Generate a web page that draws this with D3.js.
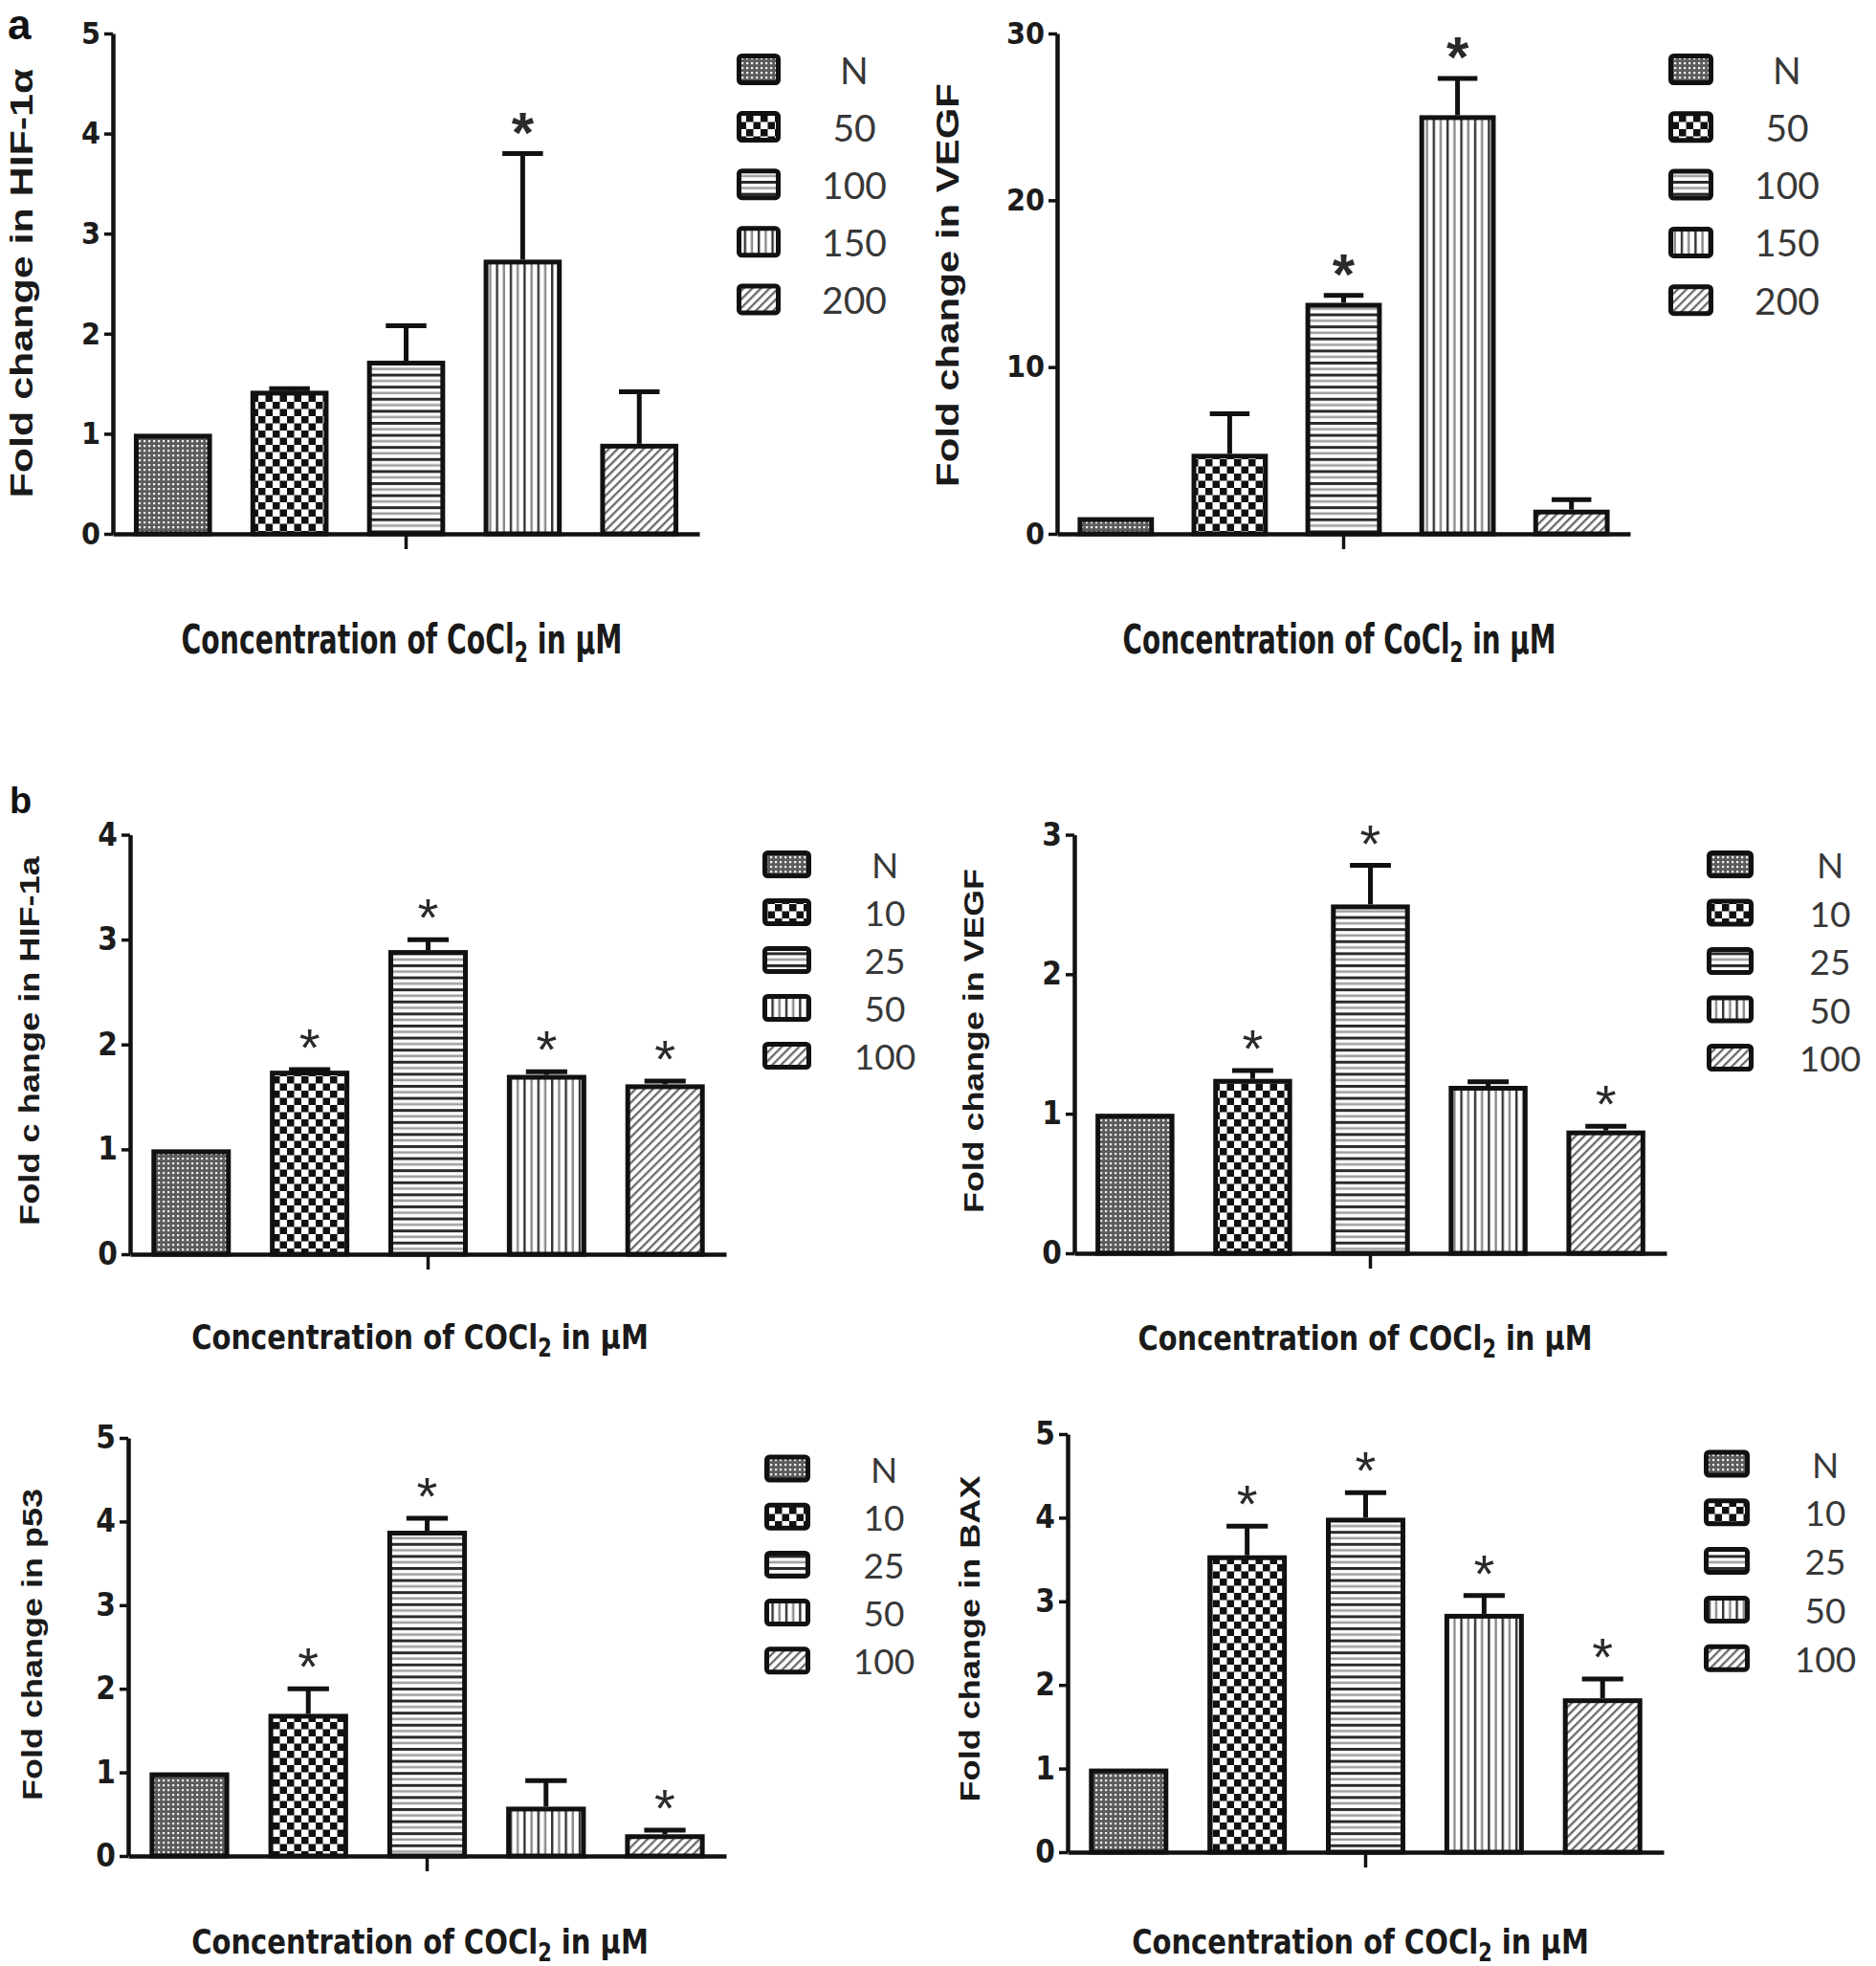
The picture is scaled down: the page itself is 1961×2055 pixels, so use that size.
<!DOCTYPE html>
<html>
<head>
<meta charset="utf-8">
<script src="https://cdn.jsdelivr.net/npm/d3@7"></script>
<style>
  html, body { margin: 0; padding: 0; background: #ffffff; }
  svg { display: block; }
</style>
</head>
<body>
<svg id="chart" width="1961" height="2055"></svg>
<script>
// ---------------- DATA ----------------
const categoriesA = ["N", "50", "100", "150", "200"];
const categoriesB = ["N", "10", "25", "50", "100"];

// Panel a: HIF-1α
const hifA_mean = [1.0, 1.43, 1.73, 2.74, 0.90];
const hifA_err  = [0, 0.02, 0.35, 1.06, 0.52];
const hifA_sig  = [0, 0, 0, 1, 0];
const hifA_ticks = [0, 1, 2, 3, 4, 5];

// Panel a: VEGF
const vegfA_mean = [1.0, 4.8, 13.85, 25.1, 1.45];
const vegfA_err  = [0, 2.4, 0.45, 2.2, 0.6];
const vegfA_sig  = [0, 0, 1, 1, 0];
const vegfA_ticks = [0, 10, 20, 30];

// Panel b: HIF-1a
const hifB_mean = [1.0, 1.75, 2.90, 1.71, 1.62];
const hifB_err  = [0, 0.01, 0.10, 0.03, 0.03];
const hifB_sig  = [0, 1, 1, 1, 1];
const hifB_ticks = [0, 1, 2, 3, 4];

// Panel b: VEGF
const vegfB_mean = [1.0, 1.25, 2.50, 1.20, 0.88];
const vegfB_err  = [0, 0.06, 0.28, 0.03, 0.03];
const vegfB_sig  = [0, 1, 1, 0, 1];
const vegfB_ticks = [0, 1, 2, 3];

// Panel b: p53
const p53B_mean = [1.0, 1.70, 3.89, 0.59, 0.26];
const p53B_err  = [0, 0.30, 0.15, 0.31, 0.05];
const p53B_sig  = [0, 1, 1, 0, 1];
const p53B_ticks = [0, 1, 2, 3, 4, 5];

// Panel b: BAX
const baxB_mean = [1.0, 3.55, 4.00, 2.85, 1.84];
const baxB_err  = [0, 0.35, 0.30, 0.22, 0.23];
const baxB_sig  = [0, 1, 1, 1, 1];
const baxB_ticks = [0, 1, 2, 3, 4, 5];

// Texts
const yTitles = ["Fold change in HIF-1\u03B1", "Fold change in VEGF", "Fold c hange in HIF-1a",
                 "Fold change in VEGF", "Fold change in p53", "Fold change in BAX"];
const xTitleA = ["Concentration of CoCl", "2", " in \u03BCM"];
const xTitleB = ["Concentration of COCl", "2", " in \u03BCM"];
const panelLetters = ["a", "b"];

// ---------------- LAYOUT (positions / sizes only) ----------------
const panels = [
  { cats: categoriesA, mean: hifA_mean, err: hifA_err, sig: hifA_sig, ticks: hifA_ticks, yt: yTitles[0], xt: xTitleA,
    ax: 118, y0: 558, yTop: 35, xEnd: 731, tickFont: 32,
    legX: 770, legW: 46, legH: 33, legY0: 72.5, legDY: 60.1, legLX: 893, legFont: 39,
    ytX: 25, ytY: 296, ytLen: 449, ytFont: 34, xtX: 420, xtY: 683, xtW: 461, xtFont: 43, starFont: 60, starW: "bold" },
  { cats: categoriesA, mean: vegfA_mean, err: vegfA_err, sig: vegfA_sig, ticks: vegfA_ticks, yt: yTitles[1], xt: xTitleA,
    ax: 1105, y0: 558, yTop: 35, xEnd: 1704, tickFont: 32,
    legX: 1744, legW: 47, legH: 33, legY0: 72.5, legDY: 60.3, legLX: 1868, legFont: 39,
    ytX: 993, ytY: 298, ytLen: 422, ytFont: 34, xtX: 1400, xtY: 683, xtW: 453, xtFont: 43, starFont: 60, starW: "bold" },
  { cats: categoriesB, mean: hifB_mean, err: hifB_err, sig: hifB_sig, ticks: hifB_ticks, yt: yTitles[2], xt: xTitleB,
    ax: 136, y0: 1311, yTop: 872.5, xEnd: 759, tickFont: 33,
    legX: 797, legW: 51, legH: 29, legY0: 903.5, legDY: 50, legLX: 925, legFont: 37,
    ytX: 33, ytY: 1088, ytLen: 386, ytFont: 30, xtX: 439, xtY: 1410, xtW: 478, xtFont: 36, starFont: 56, starW: "normal" },
  { cats: categoriesB, mean: vegfB_mean, err: vegfB_err, sig: vegfB_sig, ticks: vegfB_ticks, yt: yTitles[3], xt: xTitleB,
    ax: 1123, y0: 1310, yTop: 872.5, xEnd: 1742, tickFont: 33,
    legX: 1784, legW: 49, legH: 29, legY0: 903.5, legDY: 50.5, legLX: 1913, legFont: 37,
    ytX: 1020, ytY: 1088, ytLen: 360, ytFont: 30, xtX: 1427, xtY: 1411, xtW: 475, xtFont: 36, starFont: 56, starW: "normal" },
  { cats: categoriesB, mean: p53B_mean, err: p53B_err, sig: p53B_sig, ticks: p53B_ticks, yt: yTitles[4], xt: xTitleB,
    ax: 134, y0: 1940, yTop: 1503, xEnd: 759, tickFont: 33,
    legX: 799, legW: 48, legH: 29, legY0: 1535, legDY: 50.2, legLX: 924, legFont: 37,
    ytX: 36, ytY: 1719, ytLen: 326, ytFont: 30, xtX: 439, xtY: 2042, xtW: 478, xtFont: 36, starFont: 56, starW: "normal" },
  { cats: categoriesB, mean: baxB_mean, err: baxB_err, sig: baxB_sig, ticks: baxB_ticks, yt: yTitles[5], xt: xTitleB,
    ax: 1116, y0: 1936, yTop: 1499, xEnd: 1739, tickFont: 33,
    legX: 1781, legW: 48, legH: 29, legY0: 1530, legDY: 50.8, legLX: 1908, legFont: 37,
    ytX: 1016, ytY: 1713, ytLen: 341, ytFont: 30, xtX: 1422, xtY: 2042, xtW: 478, xtFont: 36, starFont: 56, starW: "normal" }
];

const INK = "#111111";
const CONDENSED = "'Liberation Sans Narrow', 'DejaVu Sans Condensed', 'Liberation Sans', Arial, sans-serif";
const SANS = "'Liberation Sans', Arial, sans-serif";
const LEGEND_FONT = "Lato, 'Open Sans', sans-serif";

const svg = d3.select("#chart");
svg.append("rect").attr("width", 1961).attr("height", 2055).attr("fill", "#ffffff");

// ---------------- PATTERNS ----------------
const defs = svg.append("defs");
// 0: fine dotted gray
{
  const p = defs.append("pattern").attr("id", "pat0").attr("patternUnits", "userSpaceOnUse").attr("width", 5).attr("height", 5);
  p.append("rect").attr("width", 5).attr("height", 5).attr("fill", "#5c5c5c");
  p.append("rect").attr("width", 2.2).attr("height", 2.2).attr("fill", "#f2f2f2");
}
// 1: checkerboard
{
  const p = defs.append("pattern").attr("id", "pat1").attr("patternUnits", "userSpaceOnUse").attr("width", 15).attr("height", 15);
  p.append("rect").attr("width", 15).attr("height", 15).attr("fill", "#ffffff");
  p.append("rect").attr("width", 7.5).attr("height", 7.5).attr("fill", "#111");
  p.append("rect").attr("x", 7.5).attr("y", 7.5).attr("width", 7.5).attr("height", 7.5).attr("fill", "#111");
}
// 2: horizontal stripes
{
  const p = defs.append("pattern").attr("id", "pat2").attr("patternUnits", "userSpaceOnUse").attr("width", 10).attr("height", 12.6);
  p.append("rect").attr("width", 10).attr("height", 12.6).attr("fill", "#ffffff");
  p.append("rect").attr("y", 0).attr("width", 10).attr("height", 3).attr("fill", "#2a2a2a");
  p.append("rect").attr("y", 6.3).attr("width", 10).attr("height", 2.6).attr("fill", "#a0a0a0");
}
// 3: vertical stripes
{
  const p = defs.append("pattern").attr("id", "pat3").attr("patternUnits", "userSpaceOnUse").attr("width", 14.4).attr("height", 10);
  p.append("rect").attr("width", 14.4).attr("height", 10).attr("fill", "#ffffff");
  p.append("rect").attr("x", 0).attr("width", 2.4).attr("height", 10).attr("fill", "#333");
  p.append("rect").attr("x", 7.2).attr("width", 2.4).attr("height", 10).attr("fill", "#8a8a8a");
}
// 4: diagonal hatch
{
  const p = defs.append("pattern").attr("id", "pat4").attr("patternUnits", "userSpaceOnUse").attr("width", 6.4).attr("height", 6.4)
    .attr("patternTransform", "rotate(45)");
  p.append("rect").attr("width", 6.4).attr("height", 6.4).attr("fill", "#ffffff");
  p.append("rect").attr("width", 2.3).attr("height", 6.4).attr("fill", "#6a6a6a");
}

// ---------------- DRAW ----------------
function drawPanel(p) {
  const g = svg.append("g");
  const y = d3.scaleLinear().domain([0, d3.max(p.ticks)]).range([p.y0, p.yTop]);
  const x = d3.scaleBand().domain(p.cats).range([p.ax, p.xEnd]).paddingInner(0.33).paddingOuter(0.18);
  const bw = x.bandwidth();
  const data = p.cats.map((c, i) => ({ c, i, m: p.mean[i], e: p.err[i], s: p.sig[i] }));
  const cx = d => x(d.c) + bw / 2;

  // bars
  g.selectAll("rect.bar").data(data).join("rect").attr("class", "bar")
    .attr("x", d => x(d.c) + 2.5).attr("width", bw - 5)
    .attr("y", d => y(d.m) + 2.5).attr("height", d => Math.max(0, p.y0 - y(d.m) - 2.5))
    .attr("fill", d => `url(#pat${d.i})`)
    .attr("stroke", INK).attr("stroke-width", 5);

  // error bars (upper only)
  const eb = data.filter(d => d.e > 0);
  g.selectAll("line.err").data(eb).join("line").attr("class", "err")
    .attr("x1", cx).attr("x2", cx)
    .attr("y1", d => y(d.m)).attr("y2", d => y(d.m + d.e))
    .attr("stroke", INK).attr("stroke-width", 5);
  g.selectAll("line.cap").data(eb).join("line").attr("class", "cap")
    .attr("x1", d => cx(d) - bw * 0.26).attr("x2", d => cx(d) + bw * 0.26)
    .attr("y1", d => y(d.m + d.e)).attr("y2", d => y(d.m + d.e))
    .attr("stroke", INK).attr("stroke-width", 5);

  // significance asterisks
  g.selectAll("text.star").data(data.filter(d => d.s)).join("text").attr("class", "star")
    .attr("x", cx)
    .attr("y", d => y(d.m + d.e) - 36 + 0.57 * p.starFont)
    .attr("text-anchor", "middle")
    .attr("font-family", SANS).attr("font-size", p.starFont).attr("font-weight", p.starW)
    .attr("fill", "#2a2a2a")
    .text("*");

  // axes
  const ya = g.append("g").attr("transform", `translate(${p.ax},0)`)
    .call(d3.axisLeft(y).tickValues(p.ticks).tickFormat(d3.format("d")).tickSize(9).tickSizeOuter(0).tickPadding(4));
  ya.select(".domain").attr("stroke", INK).attr("stroke-width", 4.5);
  ya.selectAll(".tick line").attr("stroke", INK).attr("stroke-width", 3.5);
  ya.selectAll(".tick text").attr("font-family", CONDENSED).attr("font-weight", "bold")
    .attr("font-size", p.tickFont).attr("fill", "#1c1c1c").style("font-stretch", "condensed");

  const xa = g.append("g").attr("transform", `translate(0,${p.y0})`)
    .call(d3.axisBottom(x).tickValues([p.cats[2]]).tickSize(16).tickSizeOuter(0).tickFormat(""));
  xa.select(".domain").attr("stroke", INK).attr("stroke-width", 4.5);
  xa.selectAll(".tick line").attr("stroke", INK).attr("stroke-width", 3.5);

  // y title (rotated, fitted to measured length)
  const yt = g.append("text")
    .attr("text-anchor", "middle")
    .attr("font-family", SANS).attr("font-weight", "bold").attr("font-size", p.ytFont)
    .attr("fill", "#1a1a1a")
    .text(p.yt);
  const ytLen = yt.node().getComputedTextLength();
  const ytS = p.ytLen / ytLen;
  yt.attr("transform", `translate(${p.ytX + 0.253 * p.ytFont},${p.ytY}) rotate(-90) scale(${ytS},1)`);

  // x title with subscript
  const xt = g.append("text")
    .attr("text-anchor", "middle")
    .attr("font-family", CONDENSED).attr("font-weight", "bold").attr("font-size", p.xtFont)
    .style("font-stretch", "condensed")
    .attr("fill", "#1a1a1a");
  xt.append("tspan").text(p.xt[0]);
  xt.append("tspan").attr("font-size", p.xtFont * 0.72).attr("dy", p.xtFont * 0.22).text(p.xt[1]);
  xt.append("tspan").attr("dy", -p.xtFont * 0.22).text(p.xt[2]);
  const xtLen = xt.node().getComputedTextLength();
  xt.attr("transform", `translate(${p.xtX},${p.xtY}) scale(${p.xtW / xtLen},1)`);

  // legend
  const lg = g.append("g");
  lg.selectAll("rect").data(data).join("rect")
    .attr("x", p.legX + 2.5).attr("width", p.legW - 5)
    .attr("y", d => p.legY0 + d.i * p.legDY - p.legH / 2 + 2.5).attr("height", p.legH - 5)
    .attr("rx", 3).attr("ry", 3)
    .attr("fill", d => `url(#pat${d.i})`).attr("stroke", INK).attr("stroke-width", 5);
  lg.selectAll("text").data(data).join("text")
    .attr("x", p.legLX).attr("y", d => p.legY0 + d.i * p.legDY)
    .attr("text-anchor", "middle").attr("dominant-baseline", "central")
    .attr("font-family", LEGEND_FONT).attr("font-size", p.legFont).attr("fill", "#383838")
    .text(d => d.c);
}

panels.forEach(drawPanel);

// panel letters
svg.append("text").attr("x", 8).attr("y", 41).attr("font-family", SANS).attr("font-weight", "bold")
  .attr("font-size", 44).attr("fill", "#111").text(panelLetters[0]);
svg.append("text").attr("x", 10).attr("y", 850).attr("font-family", SANS).attr("font-weight", "bold")
  .attr("font-size", 38).attr("fill", "#111").text(panelLetters[1]);
</script>
</body>
</html>
